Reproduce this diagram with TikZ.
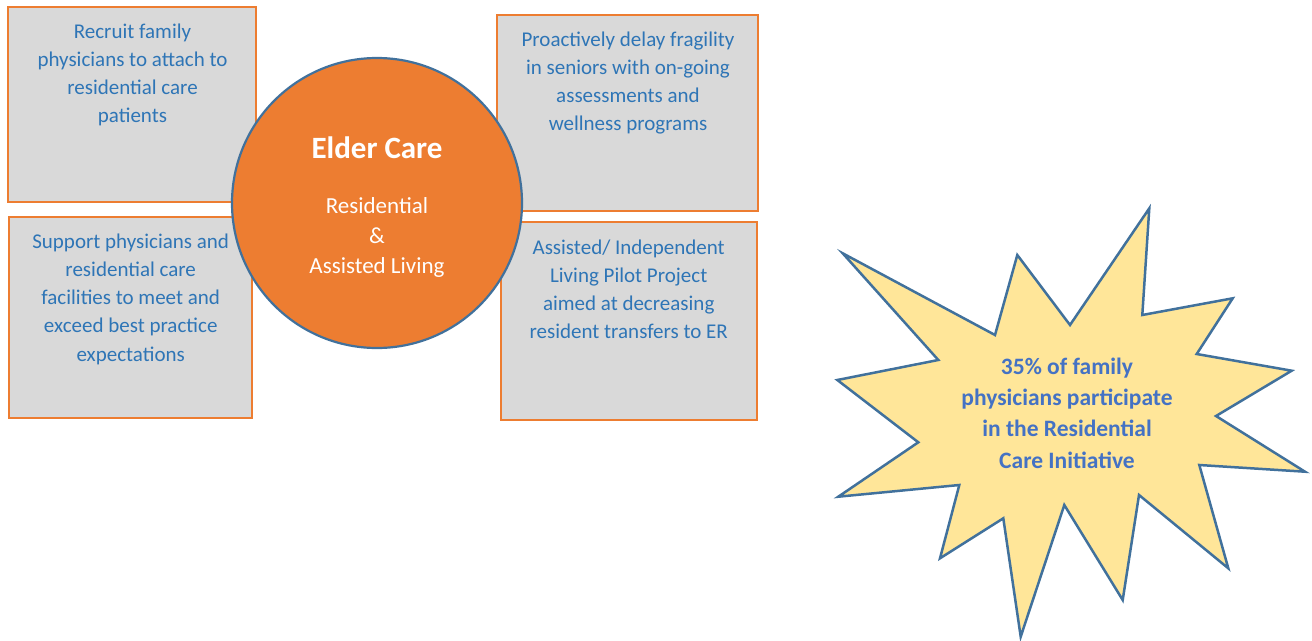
\documentclass[tikz,border=0pt]{standalone}
\usepackage{fontspec}
\setmainfont{Carlito}
\definecolor{boxfill}{HTML}{D9D9D9}
\definecolor{boxline}{HTML}{ED7D31}
\definecolor{boxtext}{HTML}{2E75B6}
\definecolor{circfill}{HTML}{ED7D31}
\definecolor{darkblue}{HTML}{41719C}
\definecolor{starfill}{HTML}{FFE699}
\definecolor{startext}{HTML}{4472C4}
\tikzset{
  goalbox/.style={draw=boxline, fill=boxfill, line width=2.5pt},
  boxlabel/.style={anchor=base, align=center, inner sep=0pt, text=boxtext,
    font=\fontsize{21}{28}\selectfont},
  hub/.style={circle, draw=darkblue, fill=circfill, line width=2.2pt, inner sep=0pt},
  burst/.style={draw=darkblue, fill=starfill, line width=2.5pt, line join=miter},
}
\begin{document}
\begin{tikzpicture}[x=1pt,y=-1pt]
\useasboundingbox (0,0) rectangle (1312,640);
% boxes
\draw[goalbox] (8,7) rectangle (256,202);
\draw[goalbox] (9,217) rectangle (252,418);
\draw[goalbox] (497,15) rectangle (758,211);
\draw[goalbox] (501,222) rectangle (757,420);
% labels (base anchor = baseline of last line)
\node[boxlabel] (t1) at (132.5,122.3) {Recruit family\\physicians to attach to\\residential care\\patients};
\node[boxlabel, font=\fontsize{21}{28.2}\selectfont] (t2) at (130.7,361) {Support physicians and\\residential care\\facilities to meet and\\exceed best practice\\expectations};
\node[boxlabel, font=\fontsize{21}{27.8}\selectfont] (t3) at (628,130) {Proactively delay fragility\\in seniors with on-going\\assessments and\\wellness programs};
\node[boxlabel, font=\fontsize{21}{27.8}\selectfont] (t4) at (628.7,338.3) {Assisted/ Independent\\Living Pilot Project\\aimed at decreasing\\resident transfers to ER};
% hub circle
\node[hub, minimum size=290pt] (hub) at (377,203) {};
\node[anchor=base, text=white, font=\fontsize{31}{31}\selectfont\bfseries, inner sep=0pt] (title) at (377,158) {Elder Care};
\node[anchor=base, text=white, align=center, inner sep=0pt, font=\fontsize{23}{30}\selectfont] (sub) at (377,273) {Residential\\\&\\Assisted Living};
% starburst
\draw[burst] (842.7,253.3) -- (995,335) -- (1017.3,255) -- (1070,325) -- (1149.3,208.3)
  -- (1142.3,315) -- (1232.7,298.3) -- (1196.7,354) -- (1291.7,370.7) -- (1216,416)
  -- (1305,471.7) -- (1199.3,465) -- (1228.3,568.3) -- (1139,495) -- (1122.7,600)
  -- (1064.3,505) -- (1020.7,636.7) -- (1003.3,518.3) -- (940,558.3) -- (959.3,485)
  -- (838.3,496.7) -- (918.3,442.3) -- (837.3,380) -- (938.3,360) -- cycle;
\node[anchor=base, align=center, inner sep=0pt, text=startext, font=\fontsize{23.5}{31.3}\selectfont\bfseries] (star) at (1067,468.2) {35\% of family\\physicians participate\\in the Residential\\Care Initiative};
\end{tikzpicture}
\end{document}
